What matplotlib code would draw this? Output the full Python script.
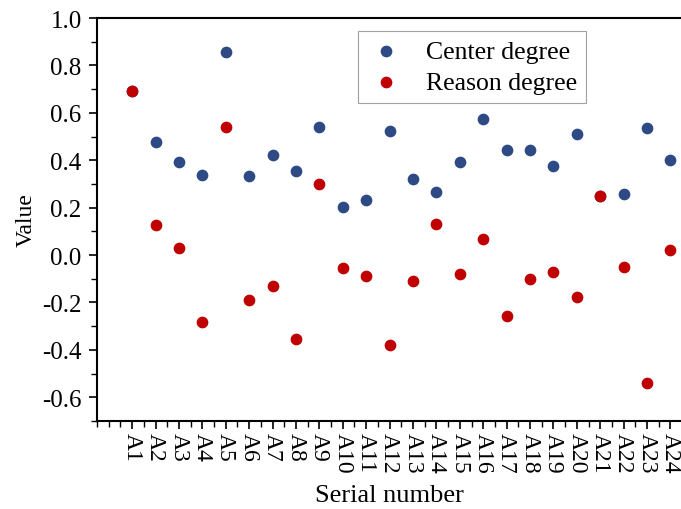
import matplotlib.pyplot as plt
from matplotlib.ticker import MultipleLocator

serial = ['A%d' % i for i in range(1, 25)]
center = [0.69, 0.478, 0.393, 0.338, 0.857, 0.333, 0.424, 0.355, 0.539, 0.203, 0.234, 0.523,
          0.321, 0.266, 0.393, 0.575, 0.445, 0.445, 0.375, 0.512, 0.251, 0.258, 0.536, 0.399]
reason = [0.69, 0.128, 0.029, -0.281, 0.539, -0.191, -0.131, -0.356, 0.300, -0.055, -0.088, -0.381,
          -0.109, 0.131, -0.078, 0.067, -0.257, -0.102, -0.071, -0.178, 0.251, -0.051, -0.539, 0.022]

plt.rcParams['font.family'] = ['Liberation Serif', 'DejaVu Serif']

fig = plt.figure(figsize=(6.81, 5.10), dpi=100)
ax = fig.add_axes([97 / 681, 88 / 510, 584 / 681, 403 / 510])

x = list(range(1, 25))
ax.scatter(x, center, s=55, color='#2d4a85', label='Center degree', zorder=3)
ax.scatter(x, reason, s=55, color='#c00000', label='Reason degree', zorder=4)

ax.set_xlim(-0.5, 24.45)
ax.set_ylim(-0.7, 1.0)
ax.set_xticks(x)
ax.set_xticklabels(serial, rotation=-90, fontsize=17)
ax.xaxis.set_minor_locator(MultipleLocator(0.5))
ax.set_yticks([-0.6, -0.4, -0.2, 0.0, 0.2, 0.4, 0.6, 0.8, 1.0])
ax.set_yticklabels(['-0.6', '-0.4', '-0.2', '0.0', '0.2', '0.4', '0.6', '0.8', '1.0'], fontsize=18)
ax.yaxis.set_minor_locator(MultipleLocator(0.1))
ax.tick_params(direction='out', which='major', length=6, width=1.2)
ax.tick_params(axis='y', which='major', pad=5)
ax.tick_params(axis='x', which='major', pad=2)
ax.tick_params(direction='out', which='minor', length=4, width=1.0)
ax.spines['right'].set_visible(False)
for s in ['left', 'bottom', 'top']:
    ax.spines[s].set_linewidth(1.5)

ax.set_xlabel('Serial number', fontsize=19, labelpad=8)
ax.set_ylabel('Value', fontsize=17, labelpad=4)

leg = ax.legend(loc='upper left', bbox_to_anchor=(0.447, 0.968), fontsize=18.5, frameon=True,
                fancybox=False, edgecolor='#888888', handletextpad=0.8, borderpad=0.35,
                labelspacing=0.3, handlelength=1.5, borderaxespad=0)
leg.get_frame().set_linewidth(0.8)

plt.savefig('out.png', dpi=100)
